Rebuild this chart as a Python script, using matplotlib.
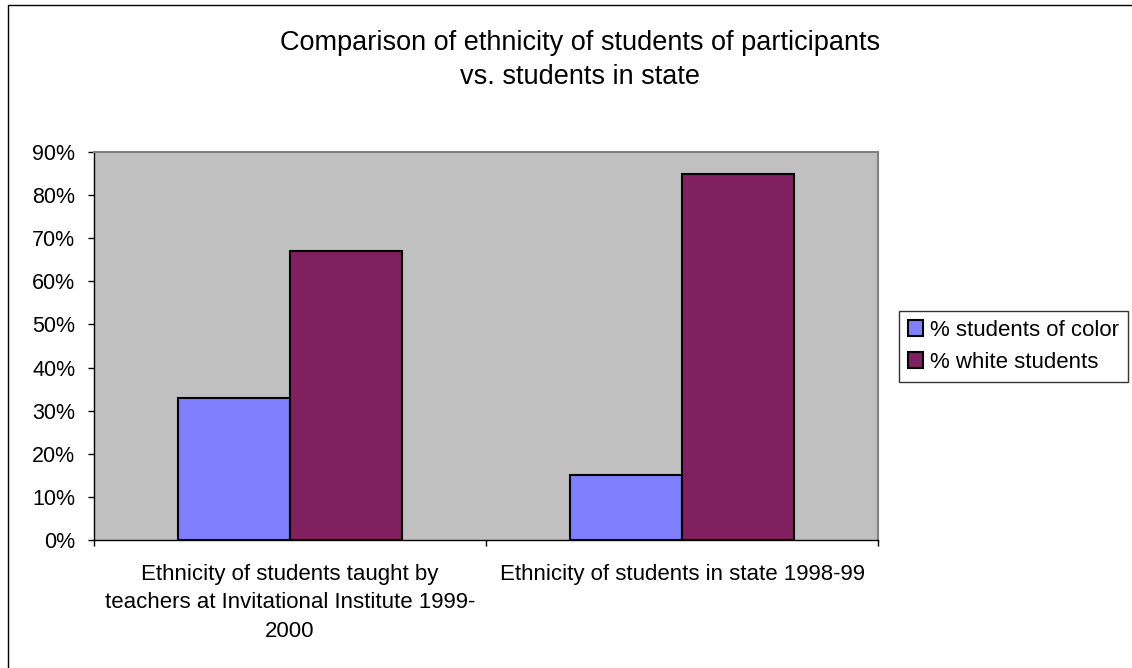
import matplotlib
matplotlib.use("Agg")
import matplotlib.pyplot as plt
from matplotlib.patches import Rectangle
import numpy as np

plt.rcParams['font.family'] = ['Liberation Sans', 'DejaVu Sans']

categories = [
    "Ethnicity of students taught by\nteachers at Invitational Institute 1999-\n2000",
    "Ethnicity of students in state 1998-99",
]
series_names = ["% students of color", "% white students"]
pct_color = [33, 15]
pct_white = [67, 85]
yticks = [0, 10, 20, 30, 40, 50, 60, 70, 80, 90]

W, H = 1132, 668
fig = plt.figure(figsize=(W / 100, H / 100), dpi=100)
fig.patch.set_facecolor("white")

# chart border (left and top edges only show)
fig.patches.append(Rectangle((8 / W, -0.5), 2, 1.5 - 4.5 / H, transform=fig.transFigure,
                             fill=False, edgecolor="black", linewidth=1.0))

ax = fig.add_axes([94 / W, (H - 540) / H, (878 - 94) / W, (540 - 152) / H])
ax.set_facecolor("#C0C0C0")

x = np.arange(len(categories))
w = 0.2857
ax.bar(x - w / 2, pct_color, w, color="#8080FF", edgecolor="black", linewidth=1.5,
       label=series_names[0], zorder=3)
ax.bar(x + w / 2, pct_white, w, color="#802060", edgecolor="black", linewidth=1.5,
       label=series_names[1], zorder=3)

ax.set_xlim(-0.5, len(categories) - 0.5)
ax.set_ylim(0, 90)
ax.set_yticks(yticks)
ax.set_yticklabels([f"{v}%" for v in yticks], fontsize=15.5)
ax.tick_params(axis="y", direction="out", length=4.5, width=1, pad=9, colors="black")

# category boundaries carry the ticks, labels sit centred under each group
ax.set_xticks([-0.5, 0.5, 1.5])
ax.set_xticklabels([])
ax.tick_params(axis="x", direction="out", length=4.5, width=1)
for i, lab in enumerate(categories):
    ax.text(i, -5.6, lab, ha="center", va="top", fontsize=16, linespacing=1.45,
            transform=ax.transData)

for s in ["top", "right"]:
    ax.spines[s].set_color("#808080")
    ax.spines[s].set_linewidth(1.5)
for s in ["left", "bottom"]:
    ax.spines[s].set_color("black")
    ax.spines[s].set_linewidth(1.0)

fig.text(580 / W, 1 - 60 / H,
         "Comparison of ethnicity of students of participants\nvs. students in state",
         ha="center", va="center", fontsize=19.5, linespacing=1.45)

leg = fig.legend(loc="upper left", bbox_to_anchor=(899 / W, 1 - 311 / H),
                 bbox_transform=fig.transFigure, fontsize=16, frameon=True,
                 fancybox=False, edgecolor="black", borderpad=0.4,
                 handlelength=0.7, handleheight=0.7, handletextpad=0.3,
                 labelspacing=0.5, borderaxespad=0)
leg.get_frame().set_linewidth(1.0)

fig.savefig("out.png", dpi=100)
